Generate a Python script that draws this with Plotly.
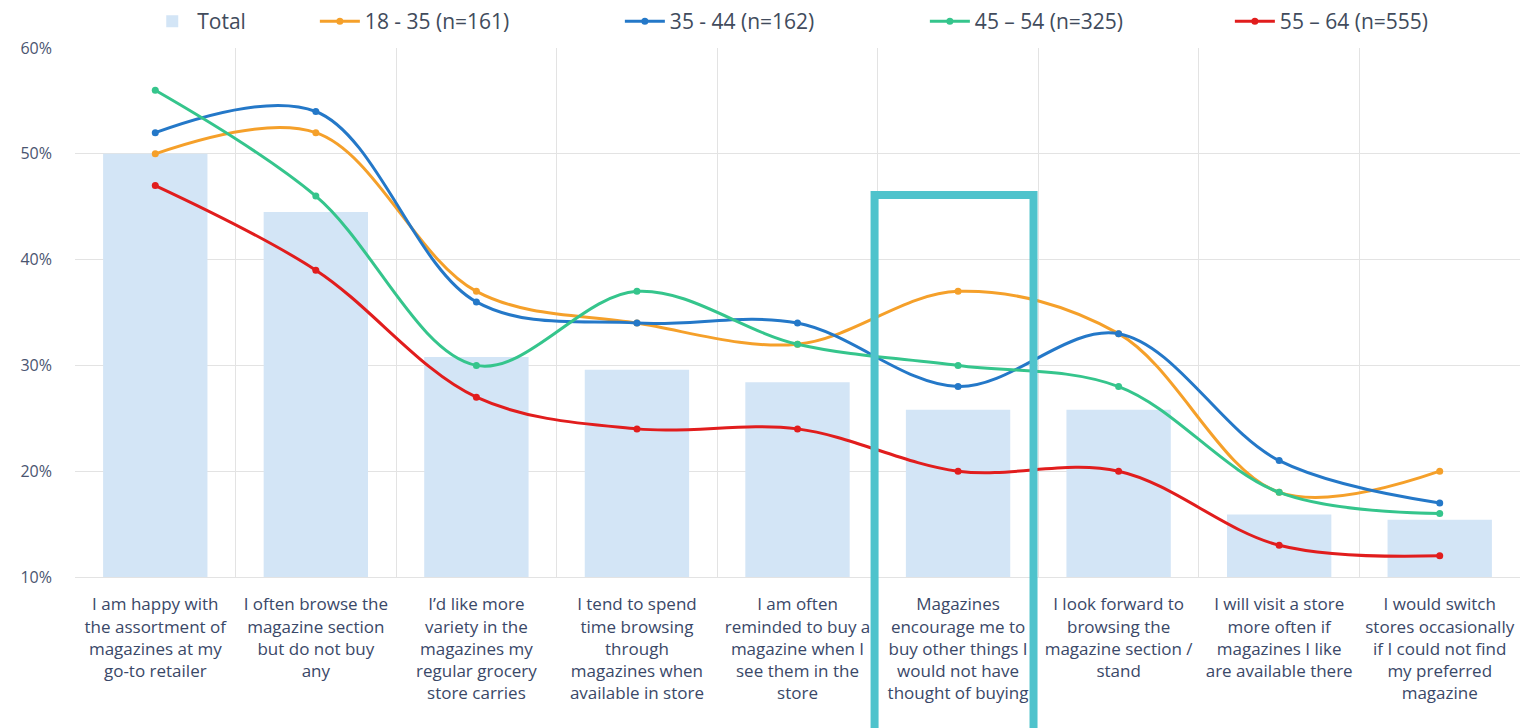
import plotly.graph_objects as go

categories = [
    "I am happy with<br>the assortment of<br>magazines at my<br>go-to retailer",
    "I often browse the<br>magazine section<br>but do not buy<br>any",
    "I’d like more<br>variety in the<br>magazines my<br>regular grocery<br>store carries",
    "I tend to spend<br>time browsing<br>through<br>magazines when<br>available in store",
    "I am often<br>reminded to buy a<br>magazine when I<br>see them in the<br>store",
    "Magazines<br>encourage me to<br>buy other things I<br>would not have<br>thought of buying",
    "I look forward to<br>browsing the<br>magazine section /<br>stand",
    "I will visit a store<br>more often if<br>magazines I like<br>are available there",
    "I would switch<br>stores occasionally<br>if I could not find<br>my preferred<br>magazine",
]

total = [50, 44.5, 30.8, 29.6, 28.4, 25.8, 25.8, 15.9, 15.4]
age_18_35 = [50, 52, 37, 34, 32, 37, 33, 18, 20]
age_35_44 = [52, 54, 36, 34, 34, 28, 33, 21, 17]
age_45_54 = [56, 46, 30, 37, 32, 30, 28, 18, 16]
age_55_64 = [47, 39, 27, 24, 24, 20, 20, 13, 12]

series = [
    ("18 - 35 (n=161)", age_18_35, "#F5A02A"),
    ("35 - 44 (n=162)", age_35_44, "#2478C8"),
    ("45 – 54 (n=325)", age_45_54, "#35C58C"),
    ("55 – 64 (n=555)", age_55_64, "#E11D1D"),
]

font_family = "Open Sans, Noto Sans, sans-serif"

fig = go.Figure()
fig.add_trace(go.Bar(
    x=categories, y=total, name="Total",
    marker=dict(color="#D3E5F6", line=dict(width=0)),
    width=0.65, legend="legend",
))
for name, vals, color in series:
    fig.add_trace(go.Scatter(
        x=categories, y=vals, name=name, mode="lines+markers",
        line=dict(color=color, width=3, shape="spline", smoothing=1),
        marker=dict(color=color, size=7),
        legend="legend2",
    ))

fig.add_shape(
    type="rect", xref="x", yref="paper",
    x0=4.48, x1=5.47, y0=-0.30, y1=0.722,
    line=dict(color="#4FC3CC", width=8), fillcolor="rgba(0,0,0,0)",
    layer="above",
)

legend_font = dict(size=21, color="#414B5C", family=font_family)
fig.update_layout(
    width=1525, height=720,
    margin=dict(l=67, r=13, t=40, b=151, autoexpand=False),
    paper_bgcolor="white", plot_bgcolor="white",
    font=dict(family=font_family, size=17, color="#3A4868"),
    showlegend=True,
    legend=dict(orientation="h", x=0.05, xanchor="left", y=1.05, yanchor="middle",
                font=legend_font, itemwidth=40, bgcolor="rgba(0,0,0,0)"),
    legend2=dict(orientation="h", x=0.166, xanchor="left", y=1.05, yanchor="middle",
                 font=legend_font, itemwidth=40, entrywidth=250,
                 entrywidthmode="pixels", bgcolor="rgba(0,0,0,0)"),
    bargap=0.35,
)
fig.update_xaxes(
    type="category", tickson="boundaries", showgrid=True, gridcolor="#E3E3E3",
    gridwidth=1, showline=True, linecolor="#E3E3E3", ticks="",
    tickfont=dict(size=17, color="#3A4868"), ticklabelstandoff=12,
    tickangle=0, range=[-0.5, 8.5],
)
fig.update_yaxes(
    range=[10, 60], dtick=10, ticksuffix="%", showgrid=True, gridcolor="#E3E3E3",
    gridwidth=1, zeroline=False, showline=False,
    tickfont=dict(size=16, color="#4A5570"), ticklabelstandoff=22,
)

fig.write_html("out.html")
